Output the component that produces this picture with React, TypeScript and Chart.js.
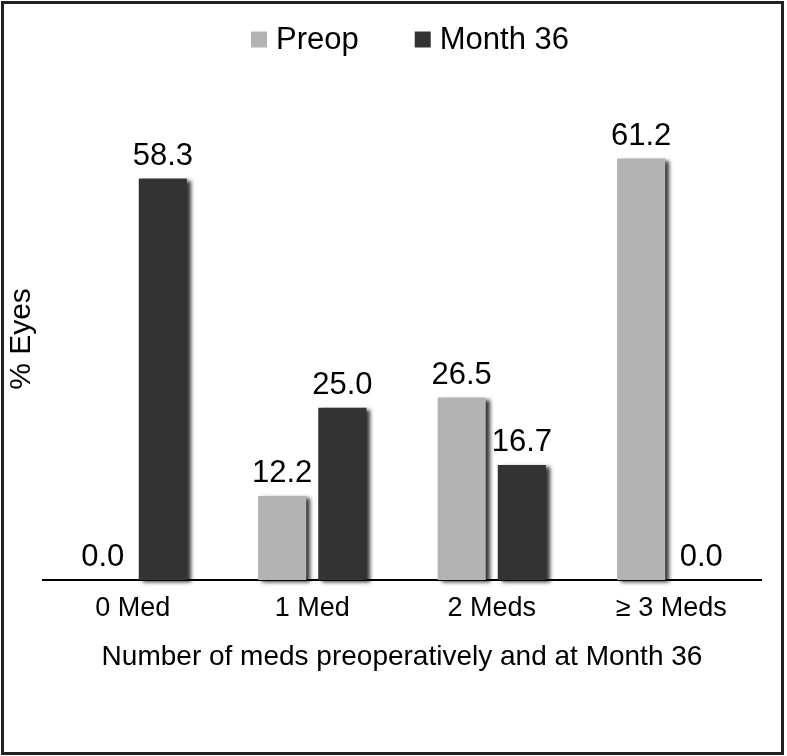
import React, { useEffect, useRef } from "react";
import { Chart, registerables } from "chart.js";

Chart.register(...registerables);

const categories = ["0 Med", "1 Med", "2 Meds", "≥ 3 Meds"];
const seriesNames = ["Preop", "Month 36"];
const preopValues = [0.0, 12.2, 26.5, 61.2];
const month36Values = [58.3, 25.0, 16.7, 0.0];
const yAxisTitle = "% Eyes";
const xAxisTitle = "Number of meds preoperatively and at Month 36";
const yMax = 70;

const FONT = '"Liberation Sans", Arial, Helvetica, sans-serif';
const COLORS = ["#b3b3b3", "#333333"];

const shadowPlugin = {
  id: "barShadow",
  beforeDatasetsDraw(chart: any) {
    const ctx = chart.ctx;
    ctx.save();
    ctx.shadowColor = "rgba(0,0,0,0.8)";
    ctx.shadowBlur = 4;
    ctx.shadowOffsetX = 4;
    ctx.shadowOffsetY = 2;
  },
  afterDatasetsDraw(chart: any) {
    chart.ctx.restore();
  },
};

const valueLabelPlugin = {
  id: "valueLabels",
  afterDraw(chart: any) {
    const ctx = chart.ctx;
    ctx.save();
    ctx.font = `31px ${FONT}`;
    ctx.fillStyle = "#000";
    ctx.textAlign = "center";
    ctx.textBaseline = "alphabetic";
    chart.data.datasets.forEach((ds: any, di: number) => {
      const meta = chart.getDatasetMeta(di);
      meta.data.forEach((el: any, i: number) => {
        const v = ds.data[i] as number;
        ctx.fillText(v.toFixed(1), el.x, el.y - 14);
      });
    });
    ctx.restore();
  },
};

const legendPlugin = {
  id: "customLegend",
  afterDraw(chart: any) {
    const ctx = chart.ctx;
    ctx.save();
    ctx.font = `31px ${FONT}`;
    ctx.textBaseline = "alphabetic";
    ctx.textAlign = "left";
    const box = 16;
    const gap = 9;
    const itemGap = 56;
    const items = chart.data.datasets.map((ds: any) => ({
      text: ds.label as string,
      color: ds.backgroundColor as string,
      w: ctx.measureText(ds.label).width,
    }));
    const total =
      items.reduce((s: number, it: any) => s + box + gap + it.w, 0) +
      itemGap * (items.length - 1);
    let x = 410 - total / 2;
    const baseline = 49;
    items.forEach((it: any) => {
      ctx.fillStyle = it.color;
      ctx.fillRect(x, 31.5, box, box);
      ctx.fillStyle = "#000";
      ctx.fillText(it.text, x + box + gap, baseline);
      x += box + gap + it.w + itemGap;
    });
    ctx.restore();
  },
};

function BarChart() {
  const ref = useRef<HTMLCanvasElement | null>(null);
  useEffect(() => {
    if (!ref.current) return;
    const chart = new Chart(ref.current, {
      type: "bar",
      data: {
        labels: categories,
        datasets: [
          {
            label: seriesNames[0],
            data: preopValues,
            backgroundColor: COLORS[0],
            borderWidth: 0,
            categoryPercentage: 0.67,
            barPercentage: 0.8,
            clip: false as any,
          },
          {
            label: seriesNames[1],
            data: month36Values,
            backgroundColor: COLORS[1],
            borderWidth: 0,
            categoryPercentage: 0.67,
            barPercentage: 0.8,
            clip: false as any,
          },
        ],
      },
      options: {
        responsive: false,
        animation: false,
        devicePixelRatio: 1,
        layout: { padding: { top: 98, left: 0, right: 26, bottom: 72 } },
        plugins: {
          legend: { display: false },
          tooltip: { enabled: false },
          title: { display: false },
        },
        scales: {
          x: {
            grid: { display: false, drawTicks: false },
            border: { display: true, color: "#000", width: 2 },
            ticks: {
              color: "#000",
              font: { family: FONT, size: 27 },
              padding: 12,
              maxRotation: 0,
              autoSkip: false,
            },
            title: {
              display: true,
              text: xAxisTitle,
              color: "#000",
              font: { family: FONT, size: 28 },
              padding: { top: 4, bottom: 10 },
            },
          },
          y: {
            min: 0,
            max: yMax,
            grid: { display: false, drawTicks: false },
            border: { display: false },
            ticks: { display: false },
            title: {
              display: true,
              text: yAxisTitle,
              color: "#000",
              font: { family: FONT, size: 30 },
              padding: { top: 4, bottom: 3 },
            },
          },
        },
      },
      plugins: [shadowPlugin, valueLabelPlugin, legendPlugin],
    });
    return () => chart.destroy();
  }, []);
  return (
    <canvas
      ref={ref}
      width={787}
      height={756}
      style={{ display: "block", width: 787, height: 756 }}
    />
  );
}

export default function App() {
  return (
    <div
      style={{
        position: "absolute",
        left: 0,
        top: 0,
        width: 787,
        height: 756,
        background: "#fff",
      }}
    >
      <BarChart />
      <div
        style={{
          position: "absolute",
          left: 1,
          top: 1,
          width: 783,
          height: 754,
          boxSizing: "border-box",
          border: "3px solid #222",
          pointerEvents: "none",
        }}
      />
    </div>
  );
}
